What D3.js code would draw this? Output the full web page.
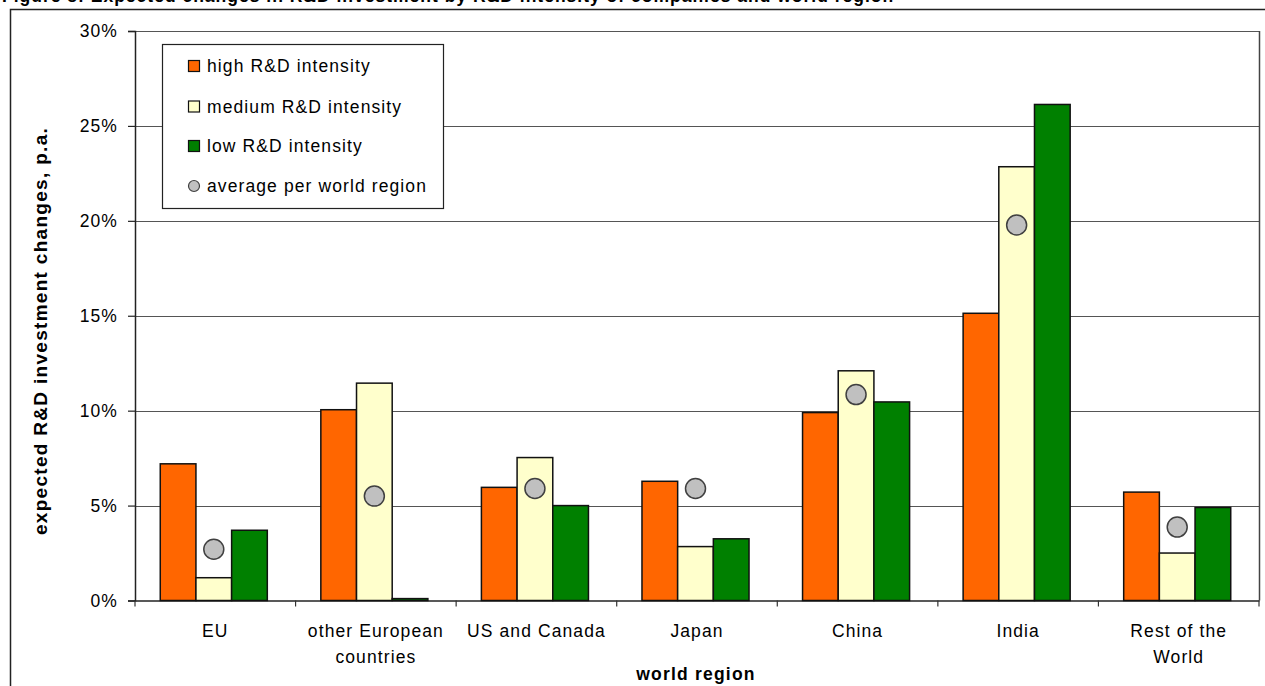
<!DOCTYPE html>
<html><head><meta charset="utf-8">
<script src="https://cdn.jsdelivr.net/npm/d3@7"></script>
<style>
html,body{margin:0;padding:0;background:#fff;overflow:hidden}
text{font-family:"Liberation Sans",Arial,sans-serif;}
</style></head>
<body>
<svg id="chart" width="1265" height="686"></svg>
<script>
const categories = ["EU","other European\ncountries","US and Canada","Japan","China","India","Rest of the\nWorld"];
const seriesNames = ["high R&D intensity","medium R&D intensity","low R&D intensity"];
const highValues   = [7.2, 10.05, 5.96, 6.28, 9.9, 15.13, 5.71];
const mediumValues = [1.2, 11.45, 7.53, 2.84, 12.1, 22.85, 2.5];
const lowValues    = [3.7, 0.1, 5.0, 3.25, 10.46, 26.13, 4.9];
const averageValues = [2.7, 5.5, 5.9, 5.9, 10.85, 19.78, 3.87];
const averageName = "average per world region";
const yTicks = [0, 5, 10, 15, 20, 25, 30];
const yTitle = "expected R&D investment changes, p.a.";
const xTitle = "world region";
const chartTitle = "Figure 8: Expected changes in R&D investment by R&D intensity of companies and world region";
const colors = ["#FF6600", "#FFFFCC", "#008000"];

const svg = d3.select("#chart");
const L = 135, R = 1259, T = 31, B = 600.5;
const shift = -1.5;

// outer frame
svg.append("rect").attr("x",10.5).attr("y",9.5).attr("width",1300).attr("height",700)
  .attr("fill","none").attr("stroke","#222").attr("stroke-width",1.5);
// cut-off title (as in the reference, only its lower edge is visible)
svg.append("text").attr("x",2).attr("y",1.5).attr("font-weight","bold").attr("font-size",17.5)
  .attr("letter-spacing",1).text(chartTitle);

const x0 = d3.scaleBand().domain(categories).range([L, R]).padding(0);
const bw = x0.bandwidth();
const x1 = d3.scaleBand().domain(seriesNames).range([bw*0.75/4.5, bw - bw*0.75/4.5]).padding(0);
const y = d3.scaleLinear().domain([0, 30]).range([B, T]);

// gridlines
svg.append("g").selectAll("line").data(yTicks.filter(d=>d>0)).join("line")
  .attr("x1",L).attr("x2",R).attr("y1",d=>Math.round(y(d))+0.5).attr("y2",d=>Math.round(y(d))+0.5)
  .attr("stroke","#555").attr("stroke-width",1.2);
// right border
svg.append("line").attr("x1",R+0.5).attr("x2",R+0.5).attr("y1",T).attr("y2",B)
  .attr("stroke","#444").attr("stroke-width",1.5);

// y axis
const yAxis = d3.axisLeft(y).tickValues(yTicks).tickFormat(d=>d+"%").tickSize(7).tickPadding(10);
const gy = svg.append("g").attr("transform",`translate(${L},0)`).call(yAxis);
gy.select(".domain").attr("stroke","#222").attr("stroke-width",1.5);
gy.selectAll(".tick line").attr("stroke","#222").attr("stroke-width",1.2);
gy.selectAll(".tick text").attr("font-size",17.5).attr("letter-spacing",1.1).attr("fill","#000")
  .attr("font-family","Liberation Sans, Arial, sans-serif");

// x axis
const xAxis = d3.axisBottom(x0).tickSize(0).tickFormat("");
const gx = svg.append("g").attr("transform",`translate(0,${B})`).call(xAxis);
gx.select(".domain").attr("stroke","#222").attr("stroke-width",1.5);
gx.selectAll(".tick").remove();
// separator ticks at category boundaries
svg.append("g").selectAll("line").data(d3.range(categories.length+1)).join("line")
  .attr("x1",i=>L+i*bw).attr("x2",i=>L+i*bw).attr("y1",B).attr("y2",B+6)
  .attr("stroke","#333").attr("stroke-width",1.2);
// category labels
const lab = svg.append("g").selectAll("text").data(categories).join("text")
  .attr("text-anchor","middle").attr("font-size",17.5).attr("letter-spacing",1.1)
  .attr("transform",d=>`translate(${x0(d)+bw/2},636.5)`);
lab.each(function(d){
  const t = d3.select(this);
  d.split("\n").forEach((s,i)=>t.append("tspan").attr("x",0).attr("dy",i===0?0:26).text(s));
});

// bars
const valuesBySeries = [highValues, mediumValues, lowValues];
const barData = [];
categories.forEach((c,ci)=>seriesNames.forEach((s,si)=>barData.push({c,s,si,v:valuesBySeries[si][ci]})));
svg.append("g").selectAll("rect").data(barData).join("rect")
  .attr("x",d=>x0(d.c)+x1(d.s)+shift).attr("width",x1.bandwidth())
  .attr("y",d=>y(d.v)).attr("height",d=>y(0)-y(d.v))
  .attr("fill",d=>colors[d.si]).attr("stroke","#111").attr("stroke-width",1.5);

// average markers
svg.append("g").selectAll("circle").data(categories).join("circle")
  .attr("cx",(d)=>x0(d)+bw/2+shift).attr("cy",(d,i)=>y(averageValues[i])).attr("r",10)
  .attr("fill","#C0C0C0").attr("stroke","#404040").attr("stroke-width",1.5);

// axis titles
svg.append("text").attr("transform",`translate(47,331) rotate(-90)`).attr("text-anchor","middle")
  .attr("font-weight","bold").attr("font-size",19).attr("letter-spacing",1.3).text(yTitle);
svg.append("text").attr("x",696).attr("y",680).attr("text-anchor","middle")
  .attr("font-weight","bold").attr("font-size",17.5).attr("letter-spacing",1.2).text(xTitle);

// legend
const lg = svg.append("g");
lg.append("rect").attr("x",162.5).attr("y",44.5).attr("width",281).attr("height",164)
  .attr("fill","#fff").attr("stroke","#222").attr("stroke-width",1.2);
const legendItems = seriesNames.concat([averageName]);
const rowY = [66, 106.5, 146, 186];
legendItems.forEach((name,i)=>{
  if(i<3){
    lg.append("rect").attr("x",188.5).attr("y",rowY[i]-5.5).attr("width",11).attr("height",11)
      .attr("fill",colors[i]).attr("stroke","#111").attr("stroke-width",1.2);
  } else {
    lg.append("circle").attr("cx",194).attr("cy",rowY[i]).attr("r",5.5)
      .attr("fill","#C0C0C0").attr("stroke","#404040").attr("stroke-width",1.2);
  }
  lg.append("text").attr("x",207).attr("y",rowY[i]).attr("dy","0.35em")
    .attr("font-size",17.5).attr("letter-spacing",1.1).text(name);
});
</script>
</body></html>
